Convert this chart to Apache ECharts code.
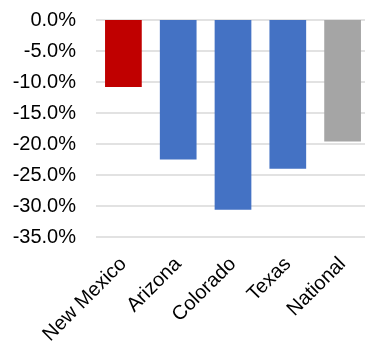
<!DOCTYPE html>
<html>
<head>
<meta charset="utf-8">
<script src="https://cdn.jsdelivr.net/npm/echarts@6/dist/echarts.min.js"></script>
<style>
  html, body { margin: 0; padding: 0; background: #ffffff; }
  #chart { width: 365px; height: 344px; }
</style>
</head>
<body>
<div id="chart"></div>
<script>
// Percent change by region
const categories = ['New Mexico', 'Arizona', 'Colorado', 'Texas', 'National'];
const values = [-10.8, -22.5, -30.6, -24.0, -19.6];
const barColors = ['#C00000', '#4472C4', '#4472C4', '#4472C4', '#A5A5A5'];
const yTicks = { min: -35, max: 0, interval: 5 };

const chart = echarts.init(document.getElementById('chart'), null, { renderer: 'canvas' });

chart.setOption({
  animation: false,
  backgroundColor: '#ffffff',
  grid: {
    left: 96, right: -5, top: 20, bottom: 107,
    containLabel: false,
    outerBoundsMode: 'none'
  },
  xAxis: {
    type: 'category',
    data: categories,
    position: 'bottom',
    axisLine: { show: false, onZero: false },
    axisTick: { show: false },
    axisLabel: {
      interval: 0,
      rotate: 45,
      margin: 24,
      color: '#000000',
      fontFamily: 'Liberation Sans, Arial, sans-serif',
      fontSize: 20
    }
  },
  yAxis: {
    type: 'value',
    min: yTicks.min,
    max: yTicks.max,
    interval: yTicks.interval,
    axisLine: { show: false },
    axisTick: { show: false },
    splitLine: { lineStyle: { color: '#d9d9d9', width: 1.5 } },
    axisLabel: {
      margin: 20,
      color: '#000000',
      fontFamily: 'Liberation Sans, Arial, sans-serif',
      fontSize: 20,
      formatter: v => v.toFixed(1) + '%'
    }
  },
  series: [{
    type: 'bar',
    data: values.map((v, i) => ({ value: v, itemStyle: { color: barColors[i] } })),
    barCategoryGap: '33%'
  }]
});
</script>
</body>
</html>
